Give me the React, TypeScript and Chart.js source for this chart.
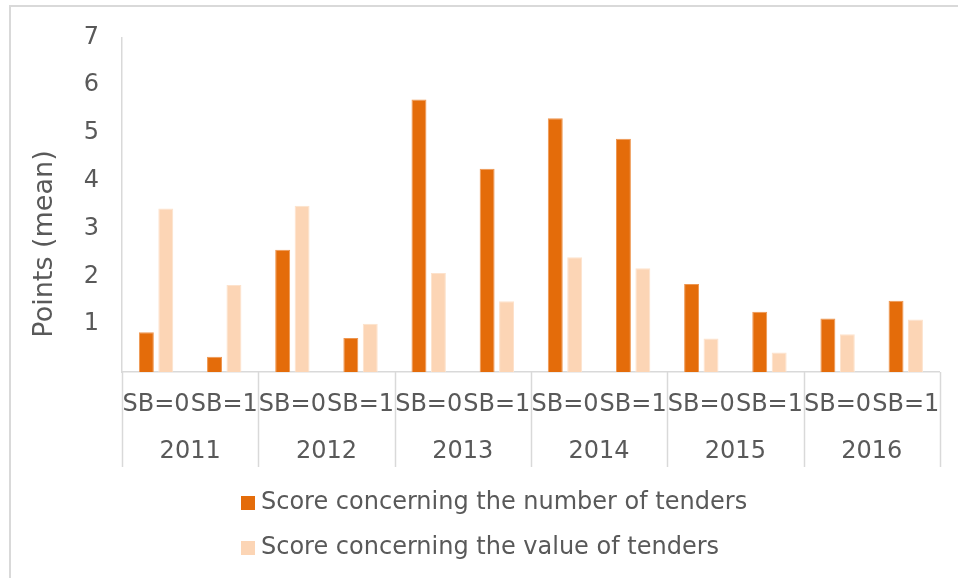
import React, { useEffect, useRef } from 'react';
import { Chart, registerables } from 'chart.js';

Chart.register(...registerables);

const subLabels = ['SB=0', 'SB=1', 'SB=0', 'SB=1', 'SB=0', 'SB=1', 'SB=0', 'SB=1', 'SB=0', 'SB=1', 'SB=0', 'SB=1'];
const years = ['2011', '2012', '2013', '2014', '2015', '2016'];
const numberScores = [0.83, 0.32, 2.56, 0.71, 5.7, 4.25, 5.31, 4.88, 1.84, 1.26, 1.12, 1.49];
const valueScores = [3.42, 1.82, 3.48, 1.01, 2.07, 1.48, 2.4, 2.17, 0.7, 0.41, 0.79, 1.1];
const seriesNames = ['Score concerning the number of tenders', 'Score concerning the value of tenders'];
const yAxisTitle = 'Points (mean)';
const yMin = 0;
const yMax = 7;
const yStep = 1;

const DARK = '#E46C0A';
const LIGHT = '#FCD5B5';
const DARK_EDGE = '#EE9650';
const LIGHT_EDGE = '#FDE2CC';
const TEXT = '#595959';
const LINE = '#D9D9D9';
const FONT = '"DejaVu Sans", Verdana, sans-serif';
const FS = 24;

const decorPlugin = {
  id: 'decor',
  beforeDraw(chart: any) {
    const ctx = chart.ctx;
    ctx.save();
    ctx.strokeStyle = LINE;
    ctx.lineWidth = 2;
    ctx.beginPath();
    ctx.moveTo(10, chart.height);
    ctx.lineTo(10, 6);
    ctx.lineTo(chart.width, 6);
    ctx.stroke();
    ctx.restore();
  },
  afterDraw(chart: any) {
    const ctx = chart.ctx;
    const x = chart.scales.x;
    const x2 = chart.scales.x2;
    const area = chart.chartArea;
    ctx.save();
    const half = (x.getPixelForValue(1) - x.getPixelForValue(0)) / 2;
    ctx.strokeStyle = LINE;
    ctx.lineWidth = 1.5;
    for (let j = 0; j <= years.length; j++) {
      const px = j < years.length ? x.getPixelForValue(j * 2) - half : x.getPixelForValue(j * 2 - 1) + half;
      ctx.beginPath();
      ctx.moveTo(Math.round(px) + 0.5, area.bottom);
      ctx.lineTo(Math.round(px) + 0.5, x2.bottom - 3);
      ctx.stroke();
    }
    ctx.fillStyle = TEXT;
    ctx.font = '27px ' + FONT;
    ctx.textAlign = 'center';
    ctx.textBaseline = 'middle';
    ctx.translate(45, 244);
    ctx.rotate(-Math.PI / 2);
    ctx.fillText(yAxisTitle, 0, 0);
    ctx.restore();
    ctx.save();
    ctx.font = FS + 'px ' + FONT;
    ctx.textAlign = 'left';
    ctx.textBaseline = 'middle';
    const lx = area.left + 119;
    const ly0 = x2.bottom + 33;
    chart.data.datasets.forEach((ds: any, i: number) => {
      const cy = ly0 + i * 45;
      ctx.fillStyle = ds.backgroundColor;
      ctx.fillRect(lx, cy - 7, 14, 14);
      ctx.fillStyle = TEXT;
      ctx.fillText(ds.label, lx + 20, cy);
    });
    ctx.restore();
  },
};

export default function App() {
  const ref = useRef<HTMLCanvasElement | null>(null);
  useEffect(() => {
    document.body.style.margin = '0';
    if (!ref.current) return;
    const chart = new Chart(ref.current, {
      type: 'bar',
      data: {
        labels: subLabels,
        datasets: [
          { label: seriesNames[0], data: numberScores, backgroundColor: DARK, borderColor: DARK_EDGE, borderWidth: 1, categoryPercentage: 0.57, barPercentage: 0.77 },
          { label: seriesNames[1], data: valueScores, backgroundColor: LIGHT, borderColor: LIGHT_EDGE, borderWidth: 1, categoryPercentage: 0.57, barPercentage: 0.77 },
        ],
      },
      options: {
        animation: false,
        responsive: false,
        maintainAspectRatio: false,
        layout: { padding: { left: 0, right: 17, top: 35, bottom: 108 } },
        plugins: { legend: { display: false }, tooltip: { enabled: false }, title: { display: false } },
        scales: {
          x: {
            type: 'category',
            position: 'bottom',
            offset: true,
            grid: { display: false, drawTicks: false },
            border: { display: true, color: LINE, width: 1.5 },
            ticks: { color: TEXT, font: { family: FONT, size: FS }, padding: 18, maxRotation: 0, minRotation: 0, autoSkip: false },
            afterFit: (s: any) => { s.height = 58; },
          },
          x2: {
            type: 'category',
            position: 'bottom',
            labels: years,
            offset: true,
            grid: { display: false, drawTicks: false },
            border: { display: false },
            ticks: { color: TEXT, font: { family: FONT, size: FS }, padding: 7, maxRotation: 0, minRotation: 0, autoSkip: false },
            afterFit: (s: any) => { s.height = 40; },
          },
          y: {
            min: yMin,
            max: yMax,
            grid: { display: false, drawTicks: false },
            border: { display: true, color: LINE, width: 1.5 },
            ticks: {
              stepSize: yStep,
              color: TEXT,
              font: { family: FONT, size: FS },
              padding: 23,
              callback: (v: any) => (v === 0 ? '' : String(v)),
            },
            afterFit: (s: any) => { s.width = 122; },
          },
        },
      },
      plugins: [decorPlugin],
    } as any);
    return () => chart.destroy();
  }, []);
  return (
    <div style={{ position: 'fixed', left: 0, top: 0, width: 958, height: 578, background: '#fff' }}>
      <canvas ref={ref} width={958} height={578} style={{ display: 'block', width: 958, height: 578 }} />
    </div>
  );
}
